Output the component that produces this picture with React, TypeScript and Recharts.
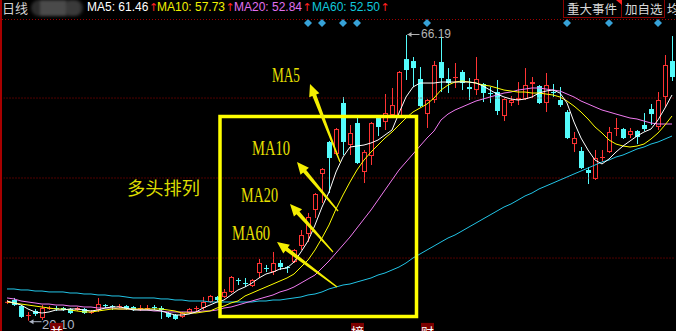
import { Bar, ComposedChart, Line, ReferenceLine, Scatter, XAxis, YAxis } from "recharts";

// daily candles (price units)
const opens = [
  23.12, 23.44, 22.47, 20.86, 21.67, 20.54, 22.12, 22.15, 22.15, 21.99,
  21.83, 21.99, 21.48, 21.83, 22.63, 22.47, 22.31, 22.47, 22.31, 21.99,
  21.99, 22.31, 22.15, 21.34, 21.02, 20.71, 21.34, 21.99, 22.15, 23.12,
  23.93, 23.93, 24.74, 26.67, 26.18, 25.7, 27.8, 28.6, 27.96, 29.41,
  28.76, 29.57, 32.15, 34.09, 37.96, 43.77, 48.93, 46.99, 55.22, 48.44,
  51.99, 44.09, 46.67, 52.8, 52.15, 53.28, 52.96, 62.31, 61.99, 59.09,
  53.44, 55.7, 61.83, 59.09, 59.25, 60.22, 57.8, 57.31, 58.28, 56.83,
  56.99, 53.12, 55.22, 55.7, 55.86, 58.28, 57.96, 55.22, 56.99, 55.7,
  53.77, 48.6, 47.48, 44.41, 42.96, 46.35, 47.31, 51.02, 51.02, 50.06,
  50.7, 51.67, 54.25, 51.35, 56.19, 61.99,
];
const closes = [
  23.15, 22.63, 20.71, 21.02, 21.18, 22.15, 22.15, 21.99, 21.83, 21.34,
  22.15, 21.34, 21.51, 22.79, 22.47, 22.31, 22.47, 21.99, 21.83, 22.15,
  22.15, 22.15, 21.83, 20.71, 20.38, 21.34, 21.99, 22.15, 23.12, 24.09,
  23.44, 24.74, 27.15, 26.51, 26.02, 26.67, 29.41, 28.44, 29.41, 28.76,
  28.6, 31.51, 33.92, 36.83, 40.54, 44.57, 46.35, 51.02, 48.93, 50.38,
  45.54, 47.31, 51.99, 51.35, 53.6, 54.89, 60.22, 60.54, 60.86, 54.73,
  55.7, 61.35, 59.25, 58.44, 59.41, 58.44, 57.47, 59.09, 56.83, 56.67,
  53.93, 55.86, 55.7, 56.02, 58.12, 58.6, 55.22, 58.12, 56.83, 54.89,
  49.57, 49.57, 44.73, 43.93, 46.35, 46.51, 50.54, 51.19, 49.57, 50.7,
  49.73, 51.02, 53.44, 55.7, 61.35, 59.41,
];
const highs = [
  23.44, 23.77, 22.63, 21.51, 21.99, 22.63, 22.47, 22.47, 22.31, 22.15,
  22.31, 22.15, 21.83, 23.77, 22.79, 22.63, 22.79, 22.63, 22.47, 22.63,
  22.63, 22.63, 22.47, 21.51, 21.18, 21.51, 22.15, 22.47, 23.93, 24.25,
  24.09, 25.22, 27.31, 26.99, 26.99, 26.83, 30.06, 29.09, 31.19, 29.89,
  28.93, 31.67, 34.73, 37.48, 40.7, 44.73, 49.09, 51.19, 56.19, 51.67,
  52.8, 47.64, 52.15, 53.28, 56.67, 57.64, 60.38, 66.19, 62.64, 61.02,
  55.86, 61.99, 65.86, 60.86, 61.67, 60.54, 59.25, 62.64, 58.44, 57.8,
  58.93, 56.02, 56.35, 58.6, 60.86, 59.41, 58.12, 60.06, 58.28, 57.8,
  54.09, 50.54, 48.12, 44.89, 47.64, 47.64, 51.35, 52.8, 51.19, 51.19,
  50.86, 53.6, 55.06, 56.99, 62.96, 66.02,
];
const lows = [
  22.79, 22.47, 20.54, 20.1, 20.86, 20.22, 21.83, 21.67, 21.67, 21.18,
  21.67, 21.18, 21.18, 21.51, 22.15, 21.83, 22.15, 21.83, 21.67, 21.67,
  21.83, 21.83, 20.38, 20.54, 20.22, 20.54, 21.18, 21.67, 21.83, 22.96,
  23.28, 23.77, 24.57, 25.86, 25.54, 25.54, 26.99, 27.96, 27.47, 28.28,
  27.8, 29.41, 31.51, 32.8, 36.67, 39.09, 40.7, 46.83, 46.83, 46.83,
  45.38, 42.31, 45.22, 49.89, 50.86, 52.8, 52.8, 58.93, 57.8, 54.57,
  51.19, 55.22, 56.99, 56.83, 57.64, 57.31, 55.7, 56.51, 55.38, 55.22,
  53.28, 52.31, 54.73, 54.89, 55.7, 56.02, 55.06, 53.77, 56.19, 54.57,
  49.41, 47.31, 44.57, 42.15, 42.8, 45.7, 47.15, 49.89, 49.41, 49.57,
  48.6, 50.7, 51.67, 50.86, 54.57, 58.77,
];

// moving averages as drawn on the chart
const ma5 = [
  23.28, 22.96, 22.63, 21.99, 21.51, 21.34, 21.51, 21.83, 21.83, 21.99,
  21.99, 21.83, 21.67, 21.83, 22.15, 22.31, 22.31, 22.15, 21.83, 21.83,
  21.83, 21.83, 21.67, 21.34, 21.02, 21.02, 21.18, 21.51, 22.15, 22.63,
  23.12, 23.44, 24.25, 25.06, 25.54, 26.18, 26.99, 27.63, 27.96, 28.44,
  28.6, 29.57, 31.19, 32.96, 35.54, 38.44, 40.86, 44.09, 46.51, 48.12,
  48.28, 48.44, 48.77, 49.25, 50.06, 50.86, 53.6, 56.19, 57.8, 58.44,
  58.44, 58.44, 58.6, 58.6, 58.6, 58.6, 58.6, 58.44, 57.96, 57.31,
  56.67, 56.19, 55.86, 55.7, 55.86, 56.19, 56.83, 57.15, 57.31, 56.83,
  55.22, 52.15, 49.57, 47.64, 46.02, 45.38, 46.19, 47.31, 48.28, 49.09,
  49.89, 50.54, 51.02, 52.48, 54.41, 56.51,
];
const ma10 = [
  23.12, 22.96, 22.79, 22.63, 22.47, 22.31, 22.15, 21.99, 21.99, 21.83,
  21.67, 21.51, 21.51, 21.67, 21.83, 21.99, 21.99, 21.99, 21.99, 21.99,
  21.99, 21.99, 21.99, 21.83, 21.67, 21.34, 21.34, 21.34, 21.51, 21.67,
  22.15, 22.47, 22.96, 23.28, 24.09, 24.57, 25.06, 25.54, 26.02, 26.51,
  26.99, 27.63, 28.76, 29.89, 31.51, 33.44, 35.54, 38.12, 40.38, 42.48,
  44.41, 46.02, 47.31, 48.44, 49.57, 50.54, 51.67, 52.8, 53.77, 54.41,
  55.06, 56.02, 57.31, 58.12, 58.6, 58.77, 58.6, 58.44, 58.12, 57.96,
  57.64, 57.31, 57.15, 56.99, 56.99, 56.83, 56.83, 56.67, 56.51, 56.19,
  55.54, 54.73, 53.77, 52.64, 51.35, 50.38, 49.25, 48.6, 48.28, 48.12,
  48.28, 48.6, 49.41, 50.38, 51.67, 53.12,
];
const ma20 = [
  23.77, 23.61, 23.28, 23.12, 22.96, 22.79, 22.79, 22.63, 22.63, 22.47,
  22.47, 22.31, 22.31, 22.15, 22.15, 22.15, 21.99, 21.99, 21.99, 21.83,
  21.83, 21.67, 21.67, 21.51, 21.51, 21.51, 21.51, 21.51, 21.67, 21.67,
  21.83, 22.15, 22.31, 22.63, 22.96, 23.28, 23.61, 23.93, 24.25, 24.74,
  25.06, 25.54, 26.18, 26.83, 27.47, 28.6, 29.73, 31.02, 32.31, 33.6,
  35.06, 36.51, 37.96, 39.57, 41.19, 42.8, 44.41, 45.7, 46.99, 48.28,
  49.57, 50.7, 52.48, 53.44, 54.09, 54.57, 55.06, 55.54, 55.86, 56.19,
  56.51, 56.83, 56.99, 57.31, 57.47, 57.64, 57.64, 57.47, 57.31, 57.15,
  56.67, 56.19, 55.54, 55.06, 54.57, 54.09, 53.77, 53.44, 53.12, 52.8,
  52.64, 52.31, 51.99, 51.83, 51.83, 51.83,
];
const ma60 = [
  25.22, 25.22, 25.06, 25.06, 24.89, 24.89, 24.74, 24.74, 24.74, 24.57,
  24.57, 24.41, 24.41, 24.25, 24.25, 24.09, 24.09, 23.93, 23.77, 23.77,
  23.77, 23.77, 23.61, 23.61, 23.44, 23.44, 23.28, 23.28, 23.28, 23.12,
  23.12, 23.12, 23.12, 23.12, 23.12, 23.12, 23.28, 23.28, 23.44, 23.44,
  23.61, 23.77, 23.93, 24.25, 24.41, 24.74, 25.22, 25.54, 25.86, 26.02,
  26.35, 26.67, 26.99, 27.47, 27.8, 28.28, 28.76, 29.41, 30.22, 30.86,
  31.51, 32.15, 32.8, 33.44, 33.93, 34.57, 35.22, 35.86, 36.51, 37.15,
  37.8, 38.44, 38.93, 39.57, 40.22, 40.7, 41.35, 41.83, 42.31, 42.8,
  43.28, 43.77, 44.25, 44.73, 45.22, 45.7, 46.02, 46.51, 46.83, 47.31,
  47.8, 48.12, 48.6, 48.93, 49.41, 49.89,
];

const eventDays = [43, 45, 48, 50, 60, 80, 86, 93];
const newsTags = [
  { day: 7, text: "并" },
  { day: 50, text: "榜" },
  { day: 60, text: "财" },
];
const peakDay = 57;
const troughDay = 3;
const gridPrices = [56.02, 43.12, 30.21];

const headerItems = [
  { x: 87, text: "MA5: 61.46", color: "#ffffff" },
  { x: 157, text: "MA10: 57.73", color: "#f0f000" },
  { x: 234, text: "MA20: 52.84", color: "#e070f0" },
  { x: 312, text: "MA60: 52.50", color: "#10c8dc" },
];

const EVENT_PRICE = 68.12;
const TAG_PRICE = 19.1;

const UP = "#ff3434";
const DOWN = "#54fcfc";
const C_MA5 = "#ffffff";
const C_MA10 = "#ffff00";
const C_MA20 = "#f07af0";
const C_MA60 = "#22c4e6";
const NOTE = "#e8e000";

const tagByDay = new Map(newsTags.map((t) => [t.day, t.text]));

const data = opens.map((open, i) => ({
  day: String(i + 1),
  open,
  close: closes[i],
  high: highs[i],
  low: lows[i],
  ma5: ma5[i],
  ma10: ma10[i],
  ma20: ma20[i],
  ma60: ma60[i],
  evt: eventDays.includes(i) ? EVENT_PRICE : null,
  tag: tagByDay.has(i) ? TAG_PRICE : null,
  tagText: tagByDay.get(i) ?? "",
  mark: i === peakDay ? "high" : i === troughDay ? "low" : "",
}));

function Candle(props: any) {
  const { x, y, width, height, payload } = props;
  if (!payload || x == null || y == null) return null;
  const { open, close, high, low, mark } = payload;
  const top = Math.min(y, y + height);
  const h = Math.abs(height);
  const k = high > low ? h / (high - low) : 0;
  const py = (v: number) => top + (high - v) * k;
  const c = Math.round(x + width / 2);
  const wx = c + 0.5;
  const up = close >= open;
  const color = up ? UP : DOWN;
  const yHi = py(high);
  const yLo = py(low);
  const yTop = py(Math.max(open, close));
  const bodyH = Math.max(1, py(Math.min(open, close)) - yTop);

  return (
    <g>
      {up ? (
        <>
          <line x1={wx} x2={wx} y1={yHi} y2={yTop} stroke={color} />
          <line x1={wx} x2={wx} y1={yTop + bodyH} y2={yLo} stroke={color} />
          {bodyH > 2 ? (
            <rect x={c - 1.5} y={yTop + 0.5} width={4} height={bodyH - 1} fill="#000" stroke={color} />
          ) : (
            <rect x={c - 2} y={yTop} width={5} height={bodyH} fill={color} />
          )}
        </>
      ) : (
        <>
          <line x1={wx} x2={wx} y1={yHi} y2={yLo} stroke={color} />
          <rect x={c - 2} y={yTop} width={5} height={bodyH} fill={color} />
        </>
      )}
      {mark === "high" && (
        <g fill="#b4b4b4" stroke="none">
          <line x1={wx + 1} x2={wx + 13} y1={yHi - 0.5} y2={yHi - 0.5} stroke="#b4b4b4" />
          <path d={`M${wx + 1},${yHi - 0.5} l4,-2.5 v5 z`} />
          <text x={wx + 14.5} y={yHi + 3.5} fontSize={12} fontFamily="Liberation Sans, Arial, sans-serif">
            {high.toFixed(2)}
          </text>
        </g>
      )}
      {mark === "low" && (
        <g fill="#aeb6c6" stroke="none">
          <line x1={wx + 1} x2={wx + 13} y1={yLo + 1} y2={yLo + 1} stroke="#aeb6c6" />
          <path d={`M${wx + 1},${yLo + 1} l4,-2.5 v5 z`} />
          <text x={wx + 13.5} y={yLo + 8} fontSize={13} fontFamily="Liberation Sans, Arial, sans-serif">
            {low.toFixed(2)}
          </text>
        </g>
      )}
    </g>
  );
}

function EventDiamond(props: any) {
  const { cx, cy, payload } = props;
  if (!payload || payload.evt == null || cx == null || cy == null) return null;
  return <path d={`M${cx},${cy - 4} L${cx + 4},${cy} L${cx},${cy + 4} L${cx - 4},${cy} Z`} fill="#36a2d8" />;
}

function NewsTag(props: any) {
  const { cx, cy, payload } = props;
  if (!payload || payload.tag == null || cx == null || cy == null) return null;
  return (
    <g>
      <rect x={cx - 6} y={cy - 4} width={13} height={14} fill="#7c0000" />
      <text
        x={cx + 0.5}
        y={cy + 10}
        textAnchor="middle"
        fontSize={13}
        fill="#ffffff"
        fontFamily="Noto Sans CJK SC, sans-serif"
      >
        {payload.tagText}
      </text>
    </g>
  );
}

// annotation drawn over the chart
const noteArrows = [
  { tail: [340, 162], tip: [310, 84] },
  { tail: [338, 211], tip: [297, 162] },
  { tail: [333, 252], tip: [290, 204] },
  { tail: [337, 287], tip: [277, 242] },
];
const noteLabels = [
  { text: "MA5", x: 272, y: 82, w: 28 },
  { text: "MA10", x: 252, y: 155, w: 38 },
  { text: "MA20", x: 241, y: 202, w: 37 },
  { text: "MA60", x: 232, y: 240, w: 38 },
];

function arrowPoints(tail: number[], tip: number[]) {
  const [tx, ty] = tail;
  const [hx, hy] = tip;
  const len = Math.hypot(hx - tx, hy - ty);
  const ux = (hx - tx) / len;
  const uy = (hy - ty) / len;
  const nx = -uy;
  const ny = ux;
  const L = 12;
  const W = 5.5;
  const bx = hx - ux * L;
  const by = hy - uy * L;
  const pts = [
    [tx + nx * 0.6, ty + ny * 0.6],
    [bx + nx * 2, by + ny * 2],
    [bx + nx * W, by + ny * W],
    [hx, hy],
    [bx - nx * W, by - ny * W],
    [bx - nx * 2, by - ny * 2],
    [tx - nx * 0.6, ty - ny * 0.6],
  ];
  return pts.map((p) => p.map((v) => v.toFixed(1)).join(",")).join(" ");
}

function Overlay() {
  const sans = "Liberation Sans, Arial, sans-serif";
  const cjk = "Noto Sans CJK SC, sans-serif";
  return (
    <svg width={676} height={331} style={{ position: "absolute", left: 0, top: 0, pointerEvents: "none" }}>
      {/* frame */}
      <rect x={0} y={0} width={2} height={331} fill="#a80000" />
      <line x1={2} x2={676} y1={19.5} y2={19.5} stroke="#a00000" strokeDasharray="1 2" />

      {/* header */}
      <text x={2} y={12.5} fontSize={13} fill="#d2d2d2" fontFamily={cjk}>日线</text>
      <g style={{ filter: "blur(1.5px)" }}>
        <rect x={31} y={0} width={52} height={16} rx={8} fill="#2c2c2c" />
        <rect x={40} y={0} width={26} height={16} fill="#4a4a4a" />
        <rect x={66} y={0} width={14} height={16} rx={6} fill="#3a3a3a" />
      </g>
      {headerItems.map((h) => (
        <text key={h.text} x={h.x} y={11} fontSize={12} fill={h.color} fontFamily={sans}>
          {h.text}
          <tspan fill="#ff2020" dx={0.5} fontSize={11} fontFamily="DejaVu Sans, sans-serif">↑</tspan>
        </text>
      ))}
      <rect x={563.5} y={-1} width={58} height={18.5} fill="none" stroke="#8a0000" />
      <rect x={621.5} y={-1} width={43} height={18.5} fill="none" stroke="#8a0000" />
      <path d="M616,0 L622,0 L622,5 Z" fill="#ff2020" />
      <text x={567} y={13.5} fontSize={12.5} fill="#d8d8d8" fontFamily={cjk}>重大事件</text>
      <text x={625} y={13.5} fontSize={12.5} fill="#d8d8d8" fontFamily={cjk}>加自选</text>
      <text x={667} y={13.5} fontSize={12.5} fill="#d8d8d8" fontFamily={cjk}>均</text>

      {/* bullish alignment note */}
      <rect x={220} y={116.5} width={196.5} height={200} fill="none" stroke="#ffff00" strokeWidth={3.5} />
      {noteArrows.map((a, i) => (
        <polygon key={i} points={arrowPoints(a.tail, a.tip)} fill="#f4ee00" />
      ))}
      {noteLabels.map((l) => (
        <text
          key={l.text}
          x={l.x}
          y={l.y}
          fontSize={20}
          fill={NOTE}
          fontFamily="Liberation Serif, Times New Roman, serif"
          textLength={l.w}
          lengthAdjust="spacingAndGlyphs"
        >
          {l.text}
        </text>
      ))}
      <text x={127} y={194.5} fontSize={18} fill="#dcdc00" fontFamily={cjk} textLength={73} lengthAdjust="spacingAndGlyphs">
        多头排列
      </text>
    </svg>
  );
}

export default function App() {
  return (
    <div style={{ position: "absolute", left: 0, top: 0, width: 676, height: 331, background: "#000", overflow: "hidden" }}>
      <ComposedChart
        width={676}
        height={331}
        data={data}
        margin={{ top: 19, right: 0.5, bottom: 0, left: 3.5 }}
        barCategoryGap={0}
      >
        <XAxis dataKey="day" type="category" hide />
        <YAxis type="number" domain={[18.44, 68.77]} allowDataOverflow hide />
        {gridPrices.map((p) => (
          <ReferenceLine key={p} y={p} stroke="#a00000" strokeDasharray="1 2" ifOverflow="hidden" />
        ))}
        <Bar
          dataKey={(d: any) => [d.low, d.high]}
          barSize={5}
          shape={<Candle />}
          isAnimationActive={false}
        />
        <Line type="linear" dataKey="ma60" stroke={C_MA60} strokeWidth={1} dot={false} activeDot={false} isAnimationActive={false} />
        <Line type="linear" dataKey="ma20" stroke={C_MA20} strokeWidth={1} dot={false} activeDot={false} isAnimationActive={false} />
        <Line type="linear" dataKey="ma10" stroke={C_MA10} strokeWidth={1} dot={false} activeDot={false} isAnimationActive={false} />
        <Line type="linear" dataKey="ma5" stroke={C_MA5} strokeWidth={1} dot={false} activeDot={false} isAnimationActive={false} />
        <Scatter dataKey="evt" shape={<EventDiamond />} isAnimationActive={false} />
        <Scatter dataKey="tag" shape={<NewsTag />} isAnimationActive={false} />
      </ComposedChart>
      <Overlay />
    </div>
  );
}
